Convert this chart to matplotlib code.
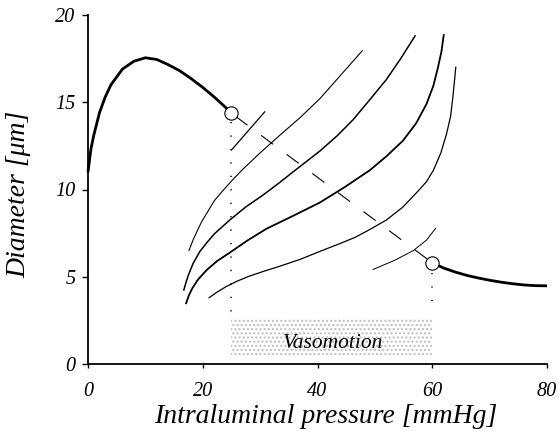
import matplotlib
matplotlib.use("Agg")
import matplotlib.pyplot as plt
from matplotlib.patches import Rectangle

# Passive/active diameter response (thick curves)
low_p = [0, 0.5, 1, 2, 3, 4, 6, 8, 10, 12, 14, 16, 18, 20, 22, 24, 25]
low_d = [11.0, 12.3, 13.1, 14.4, 15.3, 16.0, 16.9, 17.35, 17.55, 17.45, 17.15,
         16.8, 16.35, 15.85, 15.3, 14.7, 14.37]
high_p = [60, 62, 64, 66, 68, 70, 72, 74, 76, 78, 80]
high_d = [5.8, 5.5, 5.27, 5.08, 4.93, 4.8, 4.69, 4.6, 4.53, 4.49, 4.48]

# Pressure-diameter relations at different tone levels (thin curves)
tone1_p = [17.6, 18.3, 19.0, 19.8, 20.7, 22.0, 23.6, 25.2, 26.8, 30.0, 33.4,
           36.9, 40.4, 43.9, 47.8]
tone1_d = [6.5, 7.1, 7.6, 8.15, 8.64, 9.35, 9.97, 10.55, 11.1, 12.1, 13.1,
           14.1, 15.2, 16.5, 17.95]
tone2_p = [16.7, 17.1, 17.5, 18.3, 19.5, 20.7, 22.0, 24.7, 27.5, 30.5, 33.4,
           36.1, 40.4, 43.5, 46.2, 49.0, 52.0, 54.5, 57.0]
tone2_d = [4.24, 4.7, 5.1, 5.75, 6.45, 6.95, 7.45, 8.25, 9.0, 9.68, 10.4,
           11.1, 12.2, 13.1, 14.0, 15.1, 16.3, 17.5, 18.8]
tone3_p = [17.1, 17.6, 18.2, 19.2, 20.7, 22.5, 24.7, 27.8, 31.1, 35.8, 40.4,
           44.8, 49.1, 52.0, 54.9, 57.2, 59.0, 60.2, 61.0, 61.6, 62.0]
tone3_d = [3.48, 3.95, 4.35, 4.85, 5.39, 5.9, 6.38, 7.08, 7.75, 8.5, 9.25,
           10.15, 11.1, 11.9, 12.8, 13.8, 14.9, 15.95, 17.0, 17.9, 18.85]
tone4_p = [21.1, 22.5, 24.0, 26.0, 28.0, 30.5, 33.4, 37.0, 40.4, 43.9, 46.5,
           48.8, 52.0, 54.9, 57.5, 59.0, 60.2, 61.5, 62.5, 63.2, 63.6, 64.1]
tone4_d = [3.8, 4.12, 4.42, 4.75, 5.02, 5.3, 5.6, 6.0, 6.45, 6.9, 7.25,
           7.65, 8.25, 9.0, 9.9, 10.45, 11.1, 12.1, 13.2, 14.2, 15.3, 17.0]

# Short tangent pieces at the two operating points
seg1_p = [25.0, 30.8]
seg1_d = [12.26, 14.45]
seg2_p = [49.7, 53.5, 56.7, 59.0, 60.6]
seg2_d = [5.42, 5.95, 6.5, 7.1, 7.78]

# Operating points joined by the dashed transition
op_p = [25, 60]
op_d = [14.37, 5.8]

# Vasomotion band
vaso_p = [25, 60]
vaso_d = [0.5, 2.6]

x_ticks = [0, 20, 40, 60, 80]
y_ticks = [0, 5, 10, 15, 20]

serif = ["Liberation Serif", "DejaVu Serif"]

fig = plt.figure(figsize=(5.59, 4.32), dpi=100)
ax = fig.add_axes([88 / 559, 68 / 432, 459 / 559, 349 / 432])
ax.set_xlim(0, 80)
ax.set_ylim(0, 20)

for s in ("top", "right"):
    ax.spines[s].set_visible(False)
for s in ("left", "bottom"):
    ax.spines[s].set_linewidth(1.3)

# stippled vasomotion band
band = Rectangle((vaso_p[0], vaso_d[0]), vaso_p[1] - vaso_p[0], vaso_d[1] - vaso_d[0],
                 facecolor="none", edgecolor="#bdbdbd", hatch="....", linewidth=0, zorder=1)
ax.add_patch(band)
ax.text(42.7, 0.9, "Vasomotion", family=serif, style="italic", fontsize=15.5,
        ha="center", va="baseline", zorder=3)

# dotted drop lines from the operating points
ax.plot([op_p[0], op_p[0]], [op_d[0] - 0.5, 2.9], color="black", lw=1.1,
        linestyle=(0, (0.8, 8.0)), dash_capstyle="butt", zorder=2)
ax.plot([op_p[1], op_p[1]], [op_d[1] - 0.6, 3.0], color="black", lw=1.1,
        linestyle=(0, (0.8, 8.0)), dash_capstyle="butt", zorder=2)

# tone curves
ax.plot(tone1_p, tone1_d, color="black", lw=0.8, zorder=2)
ax.plot(tone2_p, tone2_d, color="black", lw=1.1, zorder=2)
ax.plot(tone3_p, tone3_d, color="black", lw=1.3, zorder=2)
ax.plot(tone4_p, tone4_d, color="black", lw=0.9, zorder=2)
ax.plot(seg1_p, seg1_d, color="black", lw=0.9, zorder=2)
ax.plot(seg2_p, seg2_d, color="black", lw=0.7, zorder=2)

# dashed transition between the operating points
ax.plot(op_p, op_d, color="black", lw=0.8, zorder=2,
        linestyle=(19.4 / 0.8, (10.8 / 0.8, 12.2 / 0.8)))

# thick response curves
ax.plot(low_p, low_d, color="black", lw=2.0, solid_capstyle="butt", zorder=4, clip_on=False)
ax.plot(high_p, high_d, color="black", lw=2.0, solid_capstyle="butt", zorder=4, clip_on=False)
ax.plot(op_p, op_d, linestyle="none", marker="o", markersize=9.6,
        markerfacecolor="white", markeredgecolor="black", markeredgewidth=0.8,
        zorder=5, clip_on=False)

ax.set_xticks(x_ticks)
ax.set_yticks(y_ticks)
ax.set_xticklabels([str(v) for v in x_ticks], family=serif, style="italic", fontsize=14.5)
ax.set_yticklabels([str(v) for v in y_ticks], family=serif, style="italic", fontsize=14.5)
ax.tick_params(axis="x", direction="out", length=3, width=1, pad=10)
ax.tick_params(axis="y", direction="out", length=4, width=1, pad=5)

ax.text(0.518, -0.169, "Intraluminal pressure [mmHg]", transform=ax.transAxes,
        family=serif, style="italic", fontsize=20, ha="center", va="baseline")
ax.text(-0.15, 0.486, "Diameter [μm]", transform=ax.transAxes, rotation=90,
        family=serif, style="italic", fontsize=20, ha="center", va="center")

fig.savefig("out.png", dpi=100)
